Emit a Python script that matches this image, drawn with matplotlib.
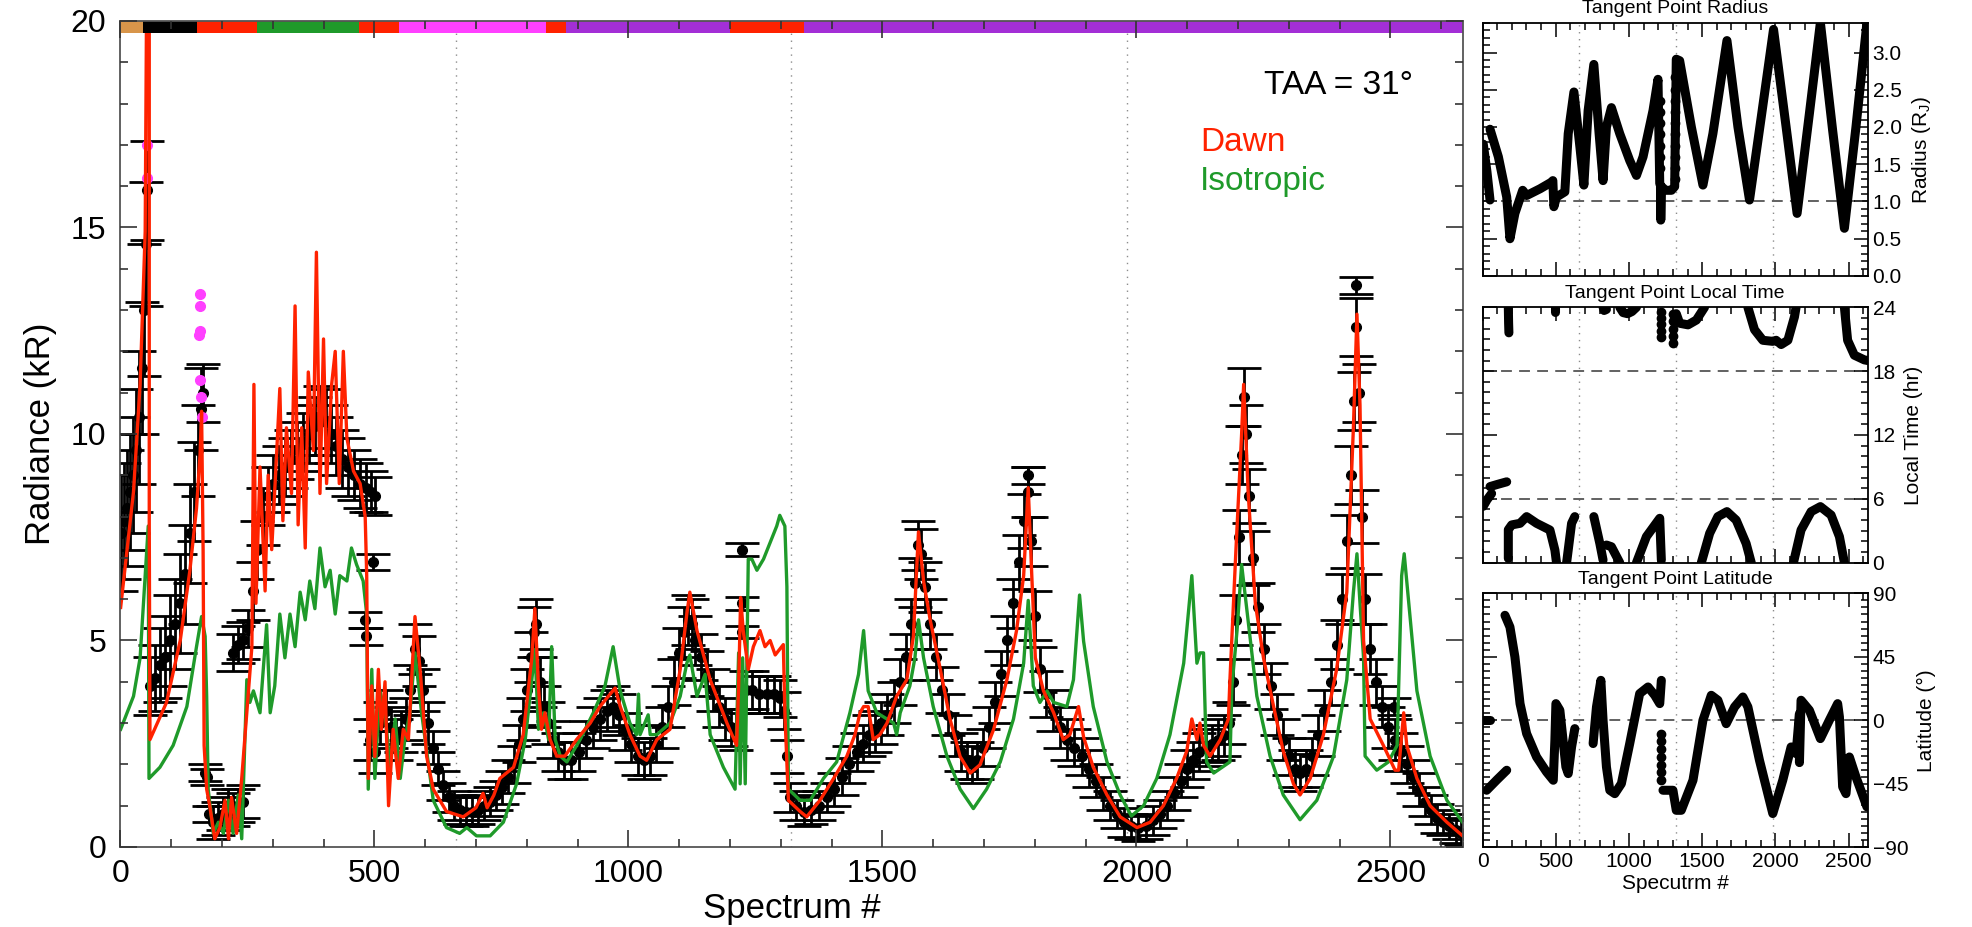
import matplotlib
matplotlib.use("Agg")
import matplotlib.pyplot as plt
import numpy as np
from matplotlib.ticker import MultipleLocator

plt.rcParams['font.family'] = ['Liberation Sans', 'DejaVu Sans']
plt.rcParams['mathtext.default'] = 'regular'

# ---- main panel data (spectrum #, radiance kR) ----
dawn_pts = [
    (0.7, 5.8), (26, 8.6), (39, 11.2), (49, 14.9), (52, 21), (57, 21), (57, 7.8), (58.4, 2.6),
    (91, 3.5), (118, 5.0), (137, 6.7), (150, 8.2), (157, 9.5), (160, 10.55), (163, 7.2),
    (165, 2.46), (170, 1.4), (176, 1.0), (186, 0.2), (196, 0.47), (206, 1.13), (213, 0.2),
    (219, 1.2), (229, 0.33), (239, 1.66), (249, 3.25), (259, 4.85), (263, 11.2), (267, 5.9),
    (275, 9.2), (285, 6.2), (291, 9.0), (298, 7.2), (308, 9.6), (314, 11.1), (320, 7.9),
    (327, 10.15), (337, 8.56), (344, 13.1), (350, 7.8), (357, 10.15), (364, 7.24), (370, 11.5),
    (380, 9.6), (386, 14.4), (393, 8.56), (400, 12.3), (406, 8.8), (416, 11.2), (423, 12.0),
    (431, 8.8), (439, 12.0), (446, 9.9), (459, 9.1), (472, 8.8), (482, 8.0), (485, 6.57),
    (488, 1.66), (495, 3.9), (501, 2.19), (508, 4.3), (514, 2.85), (521, 4.0), (528, 1.0),
    (537, 2.85), (547, 1.66), (557, 2.85), (567, 2.6), (580, 5.58), (590, 4.3), (603, 2.19),
    (616, 1.4), (642, 0.86), (675, 0.73), (700, 0.95), (714, 1.3), (722, 0.95), (735, 1.25),
    (747, 1.66), (774, 1.93), (793, 2.72), (810, 4.58), (816, 5.77), (823, 3.9), (829, 2.85),
    (836, 3.25), (846, 2.6), (859, 2.2), (875, 2.2), (898, 2.6), (925, 3.0), (944, 3.4),
    (964, 3.7), (974, 3.85), (984, 3.4), (1003, 2.72), (1023, 2.2), (1036, 2.1), (1056, 2.6),
    (1082, 2.85), (1102, 4.3), (1115, 5.64), (1121, 6.17), (1135, 5.24), (1161, 4.05),
    (1194, 3.0), (1213, 2.46), (1217, 3.9), (1221, 6.04), (1226, 5.24), (1236, 4.3),
    (1246, 4.85), (1259, 5.24), (1269, 4.85), (1279, 5.0), (1289, 4.65), (1305, 4.9),
    (1308, 3.25), (1315, 1.13), (1338, 0.86), (1351, 0.73), (1377, 1.13), (1404, 1.66),
    (1430, 2.2), (1446, 2.72), (1456, 3.25), (1463, 3.4), (1472, 3.4), (1482, 2.6),
    (1495, 2.72), (1509, 3.0), (1528, 3.65), (1548, 4.05), (1561, 5.1), (1571, 7.63),
    (1581, 6.44), (1594, 5.5), (1614, 4.3), (1633, 3.1), (1653, 2.19), (1673, 1.79),
    (1692, 1.99), (1719, 2.85), (1745, 4.05), (1764, 5.24), (1778, 6.57), (1787, 8.7),
    (1794, 6.57), (1801, 4.58), (1817, 3.78), (1837, 3.25), (1856, 2.6), (1869, 2.72),
    (1886, 3.4), (1896, 2.66), (1915, 1.93), (1942, 1.26), (1968, 0.73), (2001, 0.47),
    (2027, 0.6), (2053, 1.0), (2079, 1.66), (2099, 2.32), (2109, 3.1), (2119, 2.6),
    (2125, 3.0), (2132, 2.46), (2145, 2.2), (2165, 2.6), (2181, 3.1), (2184, 4.05),
    (2196, 7.24), (2207, 10.0), (2211, 11.2), (2220, 8.56), (2234, 5.9), (2250, 4.58),
    (2270, 3.4), (2289, 2.32), (2309, 1.53), (2322, 1.26), (2342, 1.66), (2368, 2.72),
    (2394, 4.3), (2414, 6.17), (2427, 10.15), (2434, 12.9), (2440, 10.7), (2447, 5.0),
    (2460, 3.1), (2486, 2.46), (2509, 1.86), (2516, 1.86), (2526, 3.25), (2532, 2.46),
    (2552, 1.66), (2578, 1.0), (2611, 0.6), (2642, 0.27),
]

iso_pts = [
    (0.7, 2.85), (26, 3.65), (39, 4.58), (49, 6.57), (55, 7.77), (56.5, 1.66), (78, 1.93),
    (104, 2.46), (131, 3.4), (150, 4.85), (160, 5.58), (167, 5.1), (170, 3.65), (173, 1.4),
    (183, 0.33), (193, 0.6), (203, 0.33), (213, 1.13), (222, 0.33), (232, 1.26), (239, 0.2),
    (249, 4.05), (255, 3.5), (262, 3.78), (275, 3.25), (288, 5.38), (295, 3.25), (304, 3.9),
    (314, 5.64), (324, 4.58), (334, 5.64), (344, 4.85), (354, 6.17), (364, 5.5), (373, 6.44),
    (383, 5.77), (393, 7.24), (403, 6.3), (413, 6.7), (423, 5.64), (432, 6.57), (446, 6.44),
    (455, 7.24), (465, 6.84), (478, 6.44), (485, 5.64), (488, 1.4), (495, 4.3), (501, 1.66),
    (511, 3.78), (521, 3.25), (531, 1.93), (541, 3.1), (551, 1.66), (560, 2.6), (570, 3.25),
    (580, 4.7), (593, 3.25), (616, 1.13), (642, 0.47), (668, 0.33), (682, 0.47), (701, 0.27),
    (728, 0.27), (754, 0.6), (780, 1.53), (797, 2.6), (810, 4.05), (816, 4.78), (823, 2.85),
    (833, 3.25), (843, 2.6), (849, 4.85), (856, 2.6), (866, 2.2), (879, 2.06), (905, 2.6),
    (931, 3.25), (954, 3.9), (970, 4.85), (984, 3.78), (1003, 3.0), (1016, 2.72), (1020, 3.7),
    (1023, 2.72), (1039, 3.2), (1043, 2.72), (1056, 2.72), (1082, 3.0), (1102, 3.65),
    (1115, 4.45), (1121, 4.65), (1135, 3.65), (1151, 4.18), (1161, 2.72), (1187, 1.93),
    (1210, 1.4), (1217, 4.7), (1220, 1.53), (1225, 4.58), (1230, 1.53), (1236, 6.97),
    (1243, 6.97), (1253, 6.7), (1266, 6.97), (1279, 7.37), (1292, 7.77), (1298, 8.03),
    (1308, 7.77), (1312, 6.3), (1315, 1.4), (1338, 1.13), (1358, 1.13), (1384, 1.66),
    (1410, 2.06), (1436, 3.25), (1453, 4.18), (1463, 5.24), (1472, 3.78), (1489, 3.25),
    (1509, 3.1), (1522, 3.0), (1528, 2.72), (1535, 3.25), (1554, 3.9), (1564, 4.58),
    (1571, 5.5), (1581, 4.58), (1600, 3.4), (1627, 2.2), (1653, 1.4), (1679, 0.93),
    (1705, 1.4), (1732, 2.06), (1758, 3.1), (1778, 4.45), (1787, 5.97), (1797, 3.9),
    (1810, 3.5), (1824, 3.78), (1837, 3.5), (1863, 3.4), (1876, 4.05), (1888, 6.1),
    (1896, 4.98), (1915, 3.4), (1942, 2.06), (1968, 1.26), (1990, 0.75), (2014, 1.0),
    (2040, 1.66), (2066, 2.72), (2093, 4.45), (2109, 6.57), (2119, 4.45), (2125, 4.7),
    (2132, 4.7), (2138, 2.06), (2152, 1.79), (2184, 2.06), (2188, 3.9), (2198, 5.24),
    (2207, 6.84), (2217, 5.77), (2237, 3.65), (2263, 2.2), (2289, 1.26), (2322, 0.66),
    (2355, 1.13), (2388, 2.2), (2414, 4.05), (2427, 6.17), (2434, 7.1), (2440, 5.9),
    (2447, 4.58), (2450, 2.2), (2473, 1.86), (2496, 2.06), (2513, 2.46), (2522, 6.57),
    (2527, 7.1), (2535, 6.04), (2552, 3.78), (2578, 2.2), (2611, 1.13), (2642, 0.6),
]

# measured points: (spectrum #, radiance, error)
data_pts = [
    (1, 7.6, 1.4), (7, 7.9, 1.4), (13, 8.2, 1.4), (19, 8.6, 1.4), (25, 9.0, 1.4), (31, 9.6, 1.5),
    (37, 10.4, 1.6), (42, 11.6, 1.6), (46, 13.0, 1.6), (50, 14.6, 1.5), (53, 15.9, 1.2),
    (58, 3.9, 0.7), (68, 4.1, 0.8), (78, 4.4, 0.9), (88, 4.6, 1.0), (98, 5.0, 1.1), (108, 5.4, 1.1),
    (118, 5.9, 1.2), (128, 6.6, 1.2), (138, 7.6, 1.2), (146, 8.6, 1.2), (152, 9.6, 1.1),
    (158, 10.6, 1.0), (162, 11.0, 0.7),
    (166, 1.8, 0.2), (171, 1.7, 0.2), (175, 0.8, 0.2), (182, 0.6, 0.4), (192, 0.7, 0.4),
    (202, 0.8, 0.4), (212, 1.0, 0.4), (222, 0.9, 0.4), (232, 1.0, 0.4), (242, 1.1, 0.4),
    (222, 4.7, 0.45), (232, 4.9, 0.45), (242, 5.0, 0.45), (252, 5.3, 0.45),
    (262, 6.2, 0.7), (270, 7.2, 0.7), (280, 8.0, 0.7), (290, 8.5, 0.7), (300, 8.8, 0.7),
    (312, 9.0, 0.7), (324, 9.2, 0.7), (336, 9.4, 0.7), (348, 9.6, 0.7), (360, 9.8, 0.7),
    (372, 10.0, 0.7), (384, 10.2, 0.7), (394, 10.4, 0.75), (404, 10.3, 0.8), (414, 10.0, 0.7),
    (424, 9.7, 0.7), (436, 9.4, 0.7), (448, 9.2, 0.7), (460, 9.0, 0.6), (472, 8.8, 0.6),
    (484, 8.7, 0.6), (494, 8.6, 0.5), (502, 8.5, 0.45),
    (498, 6.9, 0.2), (482, 5.5, 0.2), (484, 5.1, 0.2),
    (492, 2.6, 0.5), (502, 2.3, 0.5), (512, 3.0, 0.5), (522, 3.3, 0.5), (532, 2.9, 0.5),
    (542, 2.6, 0.5), (552, 2.8, 0.5), (562, 3.1, 0.5), (571, 3.8, 0.6), (580, 4.8, 0.6),
    (588, 4.5, 0.6), (596, 3.8, 0.5), (606, 3.0, 0.5), (616, 2.4, 0.4), (626, 1.9, 0.4),
    (636, 1.5, 0.35), (646, 1.2, 0.35), (656, 1.0, 0.35), (668, 0.9, 0.35), (680, 0.85, 0.35),
    (692, 0.85, 0.35), (704, 0.9, 0.35), (716, 1.0, 0.35), (728, 1.1, 0.35), (740, 1.25, 0.35),
    (752, 1.45, 0.4), (764, 1.7, 0.4), (774, 2.0, 0.45), (784, 2.5, 0.45), (792, 3.1, 0.5),
    (800, 3.8, 0.5), (808, 4.6, 0.6), (814, 5.2, 0.6), (819, 5.4, 0.6),
    (826, 4.0, 0.6), (834, 3.4, 0.5), (842, 3.0, 0.5), (852, 2.6, 0.45), (862, 2.3, 0.45),
    (874, 2.1, 0.45), (888, 2.1, 0.45), (902, 2.3, 0.45), (916, 2.6, 0.45), (930, 2.9, 0.5),
    (944, 3.1, 0.5), (958, 3.3, 0.5), (970, 3.4, 0.5), (982, 3.2, 0.5), (994, 2.8, 0.45),
    (1006, 2.5, 0.45), (1018, 2.2, 0.45), (1030, 2.1, 0.45), (1042, 2.2, 0.45), (1054, 2.5, 0.45),
    (1066, 2.9, 0.5), (1078, 3.4, 0.5), (1090, 4.0, 0.55), (1100, 4.7, 0.6), (1110, 5.2, 0.6),
    (1118, 5.5, 0.6), (1125, 5.4, 0.6), (1132, 5.0, 0.6), (1142, 4.6, 0.55), (1154, 4.2, 0.55),
    (1166, 3.8, 0.5), (1178, 3.4, 0.5), (1190, 3.1, 0.5), (1202, 2.9, 0.45), (1212, 2.8, 0.45),
    (1223, 7.2, 0.15), (1223, 5.9, 0.15), (1223, 5.2, 0.15),
    (1232, 3.8, 0.45), (1244, 3.8, 0.45), (1258, 3.7, 0.45), (1272, 3.7, 0.45), (1286, 3.7, 0.45),
    (1298, 3.6, 0.45), (1306, 3.3, 0.45), (1312, 2.2, 0.4), (1318, 1.2, 0.35), (1330, 1.0, 0.35),
    (1345, 0.85, 0.35), (1360, 0.9, 0.35), (1375, 1.0, 0.35), (1390, 1.2, 0.35), (1405, 1.4, 0.4),
    (1420, 1.7, 0.45), (1435, 2.0, 0.45), (1450, 2.3, 0.45), (1462, 2.5, 0.45), (1474, 2.7, 0.5),
    (1486, 2.8, 0.5), (1498, 3.0, 0.5), (1510, 3.2, 0.5), (1522, 3.5, 0.5), (1534, 4.0, 0.55),
    (1546, 4.6, 0.55), (1556, 5.4, 0.6), (1564, 6.4, 0.6), (1570, 7.3, 0.6), (1576, 7.1, 0.6),
    (1584, 6.3, 0.6), (1594, 5.4, 0.6), (1606, 4.6, 0.55), (1618, 3.8, 0.55), (1630, 3.2, 0.5),
    (1642, 2.7, 0.5), (1654, 2.3, 0.45), (1666, 2.1, 0.45), (1676, 2.0, 0.45), (1686, 2.1, 0.45),
    (1698, 2.4, 0.45), (1710, 2.9, 0.5), (1722, 3.5, 0.5), (1734, 4.2, 0.55), (1746, 5.0, 0.6),
    (1758, 5.9, 0.6), (1768, 6.9, 0.65), (1778, 7.9, 0.65), (1786, 8.6, 0.6), (1787, 9.0, 0.2),
    (1793, 7.4, 0.6), (1800, 5.6, 0.6), (1810, 4.3, 0.55), (1822, 3.7, 0.55), (1836, 3.3, 0.5),
    (1850, 2.9, 0.5), (1864, 2.6, 0.5), (1878, 2.4, 0.45), (1892, 2.2, 0.45), (1906, 1.9, 0.45),
    (1920, 1.6, 0.4), (1934, 1.3, 0.4), (1948, 1.0, 0.35), (1962, 0.8, 0.35), (1976, 0.6, 0.35),
    (1990, 0.5, 0.3), (2004, 0.45, 0.3), (2018, 0.5, 0.3), (2032, 0.65, 0.35), (2046, 0.8, 0.35),
    (2060, 1.0, 0.35), (2074, 1.3, 0.4), (2088, 1.6, 0.4), (2100, 1.9, 0.45), (2112, 2.1, 0.45),
    (2124, 2.3, 0.45), (2136, 2.4, 0.45), (2148, 2.5, 0.45), (2160, 2.6, 0.5), (2172, 2.7, 0.5),
    (2182, 3.0, 0.5), (2190, 4.0, 0.55), (2196, 5.5, 0.6), (2202, 7.5, 0.65), (2207, 9.5, 0.7),
    (2211, 10.9, 0.7), (2216, 10.0, 0.7), (2222, 8.5, 0.65), (2230, 7.0, 0.65), (2240, 5.8, 0.6),
    (2252, 4.8, 0.6), (2264, 3.9, 0.55), (2276, 3.2, 0.5), (2288, 2.6, 0.5), (2300, 2.2, 0.45),
    (2312, 1.9, 0.45), (2322, 1.8, 0.45), (2334, 1.9, 0.45), (2346, 2.2, 0.45), (2358, 2.7, 0.5),
    (2370, 3.3, 0.5), (2382, 4.0, 0.55), (2394, 4.9, 0.6), (2404, 6.0, 0.6), (2414, 7.4, 0.65),
    (2422, 9.0, 0.7), (2428, 10.8, 0.7), (2433, 12.6, 0.7), (2433, 13.6, 0.2), (2438, 11.0, 0.7),
    (2444, 8.0, 0.65), (2450, 6.0, 0.6), (2460, 4.8, 0.6), (2472, 4.0, 0.55), (2484, 3.4, 0.5),
    (2496, 2.9, 0.5), (2506, 3.4, 0.2), (2508, 2.6, 0.5), (2520, 2.3, 0.45), (2532, 2.0, 0.45),
    (2544, 1.7, 0.4), (2556, 1.4, 0.4), (2568, 1.1, 0.35), (2580, 0.9, 0.35), (2592, 0.7, 0.35),
    (2604, 0.6, 0.3), (2616, 0.5, 0.3), (2628, 0.4, 0.3), (2638, 0.35, 0.3),
]

flagged_pts = [(52, 17.0), (52, 16.2), (157, 13.4), (157, 13.1), (156, 12.5), (155, 12.4),
               (157, 11.3), (158, 10.9), (160, 10.4)]

bar_edges = [0, 44, 150, 270, 470, 549, 838, 877, 1200, 1345, 2642]
bar_colors = ['#d8954a', 'black', '#ff2200', '#1f9a2a', '#ff2200', '#ff40ff',
              '#ff2200', '#a32fd6', '#ff2200', '#a32fd6']
divider_x = [661, 1320, 1981]

# ---- tangent point panels ----
radius_segs = [
    [(5, 1.77), (30, 1.4), (51, 1.02)],
    [(51, 1.97), (108, 1.6), (165, 1.06), (187, 0.5), (221, 0.84), (274, 1.15), (301, 1.08),
     (392, 1.17), (471, 1.26), (480, 1.28), (487, 0.93), (505, 1.06), (562, 1.13), (585, 1.91),
     (624, 2.47), (665, 1.73), (692, 1.22), (721, 2.22), (760, 2.84), (796, 1.91), (823, 1.28),
     (846, 2.0), (880, 2.26), (937, 1.91), (1005, 1.55), (1051, 1.35), (1096, 1.6),
     (1164, 2.22), (1198, 2.64), (1210, 1.24)],
    [(1215, 1.22), (1217, 0.75), (1222, 1.2), (1250, 1.15), (1290, 1.15), (1312, 1.2),
     (1323, 2.91), (1346, 2.89), (1426, 2.0), (1505, 1.22), (1573, 1.91), (1669, 3.16),
     (1744, 2.0), (1823, 1.02), (1903, 2.13), (1987, 3.31), (2073, 2.0), (2148, 0.84),
     (2232, 2.18), (2307, 3.4), (2391, 1.95), (2471, 0.64), (2550, 2.0), (2625, 3.4)],
]
radius_dots = [(1210, 2.35), (1210, 2.2), (1210, 2.05), (1210, 1.9), (1210, 1.75), (1210, 1.6),
               (1210, 1.45), (1312, 2.67), (1312, 2.5), (1312, 2.35), (1312, 2.2), (1312, 2.05),
               (1312, 1.9), (1312, 1.75), (1312, 1.6), (1312, 1.45), (1312, 1.3)]

ltime_segs = [
    [(5, 5.3), (30, 5.9), (62, 6.5)],
    [(51, 7.15), (100, 7.35), (165, 7.6)],
    [(176, 24), (178, 22.5), (180, 21.6)],
    [(494, 24), (494, 23.6)],
    [(823, 24), (830, 23.7), (846, 23.8)],
    [(937, 24), (960, 23.5), (990, 23.4), (1020, 23.6), (1051, 24)],
    [(1323, 23.4), (1346, 22.5), (1403, 22.35), (1460, 22.8), (1516, 24)],
    [(1812, 24), (1857, 21.9), (1914, 20.9), (1982, 20.8), (2005, 20.9), (2039, 20.5),
     (2085, 20.9), (2130, 23.1), (2141, 24)],
    [(2471, 24), (2493, 20.9), (2539, 19.5), (2607, 19.06), (2630, 19.0)],
    [(176, 0.4), (176, 3.1), (199, 3.55), (256, 3.7), (301, 4.33), (369, 3.7), (460, 3.07),
     (494, 1.19), (505, 0)],
    [(574, 0), (608, 3.7), (630, 4.33)],
    [(760, 4.33), (801, 1.8), (823, 0.25)],
    [(846, 1.66), (880, 1.5), (937, 0)],
    [(1051, 0), (1119, 2.45), (1210, 4.17), (1216, 2.0), (1221, 0.25)],
    [(1494, 0), (1551, 2.76), (1607, 4.33), (1669, 4.8), (1732, 4.0), (1800, 1.8), (1835, 0)],
    [(2123, 0), (2175, 3.07), (2244, 4.8), (2307, 5.27), (2380, 4.48), (2437, 2.45), (2471, 0)],
]
ltime_dots = [(1221, 23.6), (1221, 23.0), (1221, 22.4), (1221, 21.8), (1221, 21.2),
              (1300, 23.4), (1300, 22.7), (1300, 22.0), (1300, 21.3), (1300, 20.6)]

lat_segs = [
    [(5, 0), (51, 0)],
    [(28, -49.6), (100, -42), (165, -35.4)],
    [(153, 74.4), (187, 66.1), (221, 44.9), (256, 11.8), (301, -9.45), (369, -26), (437, -36.6),
     (483, -42.5), (494, -14), (501, 11.8), (528, 7.1), (569, -33), (585, -37.8), (608, -18.9),
     (630, -5.9)],
    [(755, -16.5), (778, 9.45), (808, 28.3), (823, 0), (846, -33), (869, -49.6), (903, -52),
     (948, -44.9), (1005, -16.5), (1073, 18.9), (1130, 23.6), (1176, 17.7), (1210, 11.8),
     (1221, 28.3)],
    [(1232, -49.6), (1300, -49.6), (1323, -63.8), (1357, -63.8), (1437, -42.5), (1505, 0),
     (1562, 17.7), (1607, 14.2), (1664, -2.4), (1721, 9.45), (1778, 16.5), (1812, 9.45),
     (1891, -28.3), (1982, -66.1), (2050, -42.5), (2107, -18.9), (2141, -23.6), (2164, 4.7),
     (2164, -30), (2175, 14.2), (2232, 7.1), (2307, -13), (2368, 0), (2425, 11.8), (2437, 2.4),
     (2459, -47.2), (2482, -52), (2505, -26), (2550, -40.2), (2625, -61.4)],
]
lat_dots = [(1221, -9.5), (1221, -15), (1221, -20.5), (1221, -26), (1221, -31.5), (1221, -37),
            (1221, -42.5)]

RED = '#ff2200'
GREEN = '#1f9a2a'

fig = plt.figure(figsize=(19.72, 9.27), dpi=100)
ax = fig.add_axes([0.0610, 0.0863, 0.6807, 0.8911])

for xv in divider_x:
    ax.axvline(xv, color='#8c8c8c', ls=(0, (1, 4)), lw=1.0, zorder=1)

bx, by, be = np.array(data_pts).T
ax.errorbar(bx, by, yerr=be, fmt='o', ms=7, color='black', ecolor='black',
            elinewidth=2.0, capsize=12, capthick=2.0, zorder=2)
fx, fy = np.array(flagged_pts).T
ax.plot(fx, fy, 'o', ms=7, color='#ff40ff', zorder=2.2)

gx, gy = np.array(iso_pts).T
ax.plot(gx, gy, color=GREEN, lw=2.4, zorder=3)
rx, ry = np.array(dawn_pts).T
ax.plot(rx, ry, color=RED, lw=2.4, zorder=4)

for i, c in enumerate(bar_colors):
    ax.broken_barh([(bar_edges[i], bar_edges[i + 1] - bar_edges[i])], (19.7, 0.3),
                   facecolors=c, zorder=5)

ax.set_xlim(0, 2642)
ax.set_ylim(0, 20)
ax.xaxis.set_major_locator(MultipleLocator(500))
ax.xaxis.set_minor_locator(MultipleLocator(100))
ax.yaxis.set_major_locator(MultipleLocator(5))
ax.yaxis.set_minor_locator(MultipleLocator(1))
ax.tick_params(which='both', direction='in', top=True, right=True, labelsize=23, width=1.2,
               color='#333333')
ax.tick_params(axis='x', which='major', pad=9)
ax.tick_params(axis='y', which='major', pad=10)
ax.tick_params(which='major', length=12)
ax.tick_params(which='minor', length=6)
ax.xaxis.set_zorder(6)
ax.yaxis.set_zorder(6)
for s in ax.spines.values():
    s.set_zorder(6)
    s.set_color('#555555')
    s.set_linewidth(1.3)
ax.set_xlabel('Spectrum #', fontsize=25, labelpad=2)
ax.set_ylabel('Radiance (kR)', fontsize=25, labelpad=10)

fig.text(0.7165, 0.9083, 'TAA = 31°', fontsize=24, ha='right', va='center')
fig.text(0.6085, 0.8468, 'Dawn', fontsize=24, color=RED, ha='left', va='center')
fig.text(0.6085, 0.8037, 'Isotropic', fontsize=24, color=GREEN, ha='left', va='center')


def panel(rect, segs, dots, ylim, major, minor, hlines, title, ylabel, bottom):
    a = fig.add_axes(rect)
    for xv in divider_x:
        a.axvline(xv, color='#8c8c8c', ls=(0, (1, 4)), lw=1.0, zorder=1)
    for yv in hlines:
        a.axhline(yv, color='#555555', ls=(0, (6, 4)), lw=1.3, zorder=1)
    for seg in segs:
        sx, sy = zip(*seg)
        a.plot(sx, sy, color='black', lw=6.5, solid_capstyle='round',
               solid_joinstyle='round', zorder=3)
    if dots:
        dx, dy = zip(*dots)
        a.plot(dx, dy, 'o', ms=6, color='black', zorder=3)
    a.set_xlim(0, 2630)
    a.set_ylim(*ylim)
    a.xaxis.set_major_locator(MultipleLocator(500))
    a.xaxis.set_minor_locator(MultipleLocator(100))
    a.yaxis.set_major_locator(MultipleLocator(major))
    a.yaxis.set_minor_locator(MultipleLocator(minor))
    a.tick_params(which='both', direction='in', top=True, bottom=True, left=True, right=True,
                  labelleft=False, labelright=True, labelbottom=bottom, labelsize=15, width=1.1)
    a.tick_params(which='major', length=10)
    a.tick_params(which='minor', length=5)
    a.yaxis.set_label_position('right')
    a.set_ylabel(ylabel, fontsize=15, labelpad=6)
    a.set_title(title, fontsize=14, pad=7)
    for s in a.spines.values():
        s.set_linewidth(1.3)
    return a


panel([0.7518, 0.7023, 0.1953, 0.2732], radius_segs, radius_dots, (0, 3.4), 0.5, 0.1, [1.0],
      'Tangent Point Radius', 'Radius (R$_J$)', False)
p2 = panel([0.7518, 0.3930, 0.1953, 0.2755], ltime_segs, ltime_dots, (0, 24), 6, 1, [6, 18],
           'Tangent Point Local Time', 'Local Time (hr)', False)
p3 = panel([0.7518, 0.0860, 0.1953, 0.2740], lat_segs, lat_dots, (-90, 90), 45, 5, [0],
           'Tangent Point Latitude', 'Latitude (°)', True)
p3.set_xlabel('Specutrm #', fontsize=15, labelpad=2)

fig.savefig('out.png', dpi=100)
